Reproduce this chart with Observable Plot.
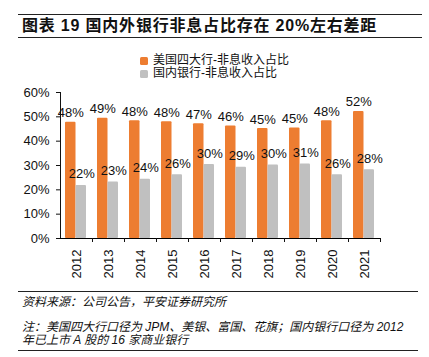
<!DOCTYPE html>
<html><head><meta charset="utf-8">
<script src="https://cdn.jsdelivr.net/npm/d3@7"></script>
<script src="https://cdn.jsdelivr.net/npm/@observablehq/plot@0.6"></script>
<style>
body{margin:0;background:#fff;width:429px;height:357px;position:relative;overflow:hidden;font-family:"Liberation Sans","Noto Sans CJK SC",sans-serif;color:#111;}
#title{position:absolute;left:18px;top:14px;width:400px;height:22px;border-top:1.5px solid #222;border-bottom:1.5px solid #222;font-size:16px;font-weight:bold;line-height:22px;padding-left:4px;box-sizing:content-box;white-space:nowrap;letter-spacing:0.8px;}
#legend{position:absolute;left:140px;top:54px;font-size:12px;line-height:13px;}
#legend .row{display:flex;align-items:center;}
#legend .sw{width:8px;height:8px;margin-right:5px;border-radius:1.5px;}
#chart{position:absolute;left:0;top:80px;}
#foot{position:absolute;left:18px;top:291px;width:400px;border-top:1.5px solid #222;border-bottom:1.5px solid #222;font-size:12px;font-style:italic;padding:4px 0 3px 4px;box-sizing:border-box;}
#foot p{margin:0;line-height:13px;}
#foot p.src{margin-bottom:12px;}
</style></head>
<body>
<div id="title">图表 19 国内外银行非息占比存在 20%左右差距</div>
<div id="legend"></div>
<div id="chart"></div>
<div id="foot"><p class="src">资料来源：公司公告，平安证券研究所</p><p>注：美国四大行口径为 JPM、美银、富国、花旗；国内银行口径为 2012<br>年已上市 A 股的 16 家商业银行</p></div>
<script>
const years = ["2012","2013","2014","2015","2016","2017","2018","2019","2020","2021"];
const usShare = [47.8, 49.4, 48.4, 48.0, 47.2, 46.2, 45.2, 45.4, 48.4, 52.2];
const cnShare = [21.8, 23.2, 24.3, 26.2, 30.4, 29.3, 30.2, 30.6, 26.2, 28.3];
const seriesNames = ["美国四大行-非息收入占比", "国内银行-非息收入占比"];
const seriesColors = ["#ED7D31", "#C0C0C0"];
const yTicks = [0, 10, 20, 30, 40, 50, 60];

const data = years.map((y, i) => ({year: y, us: usShare[i], cn: cnShare[i]}));

const legend = document.getElementById("legend");
seriesNames.forEach((n, i) => {
  const r = document.createElement("div");
  r.className = "row";
  r.innerHTML = `<span class="sw" style="background:${seriesColors[i]}"></span><span>${n}</span>`;
  legend.appendChild(r);
});

const fmt = v => Math.round(v) + "%";
const plot = Plot.plot({
  width: 429,
  height: 210,
  marginLeft: 60,
  marginRight: 49,
  marginTop: 12,
  marginBottom: 52,
  style: {fontFamily: "Liberation Sans, Arial, sans-serif", fontSize: "13px", color: "#111", background: "#fff"},
  x: {domain: years, padding: 0, label: null},
  y: {domain: [0, 60], ticks: yTicks, tickFormat: d => d + "%", tickSize: 4, tickPadding: 7, line: true, label: null},
  marks: [
    Plot.barY(data, {x: "year", y: "us", fill: seriesColors[0], insetLeft: 5, insetRight: 16.5, rx: 1}),
    Plot.barY(data, {x: "year", y: "cn", fill: seriesColors[1], insetLeft: 15.5, insetRight: 6, rx: 1}),
    Plot.text(data, {x: "year", y: "us", text: d => fmt(d.us), dx: -5.75, dy: -5, lineAnchor: "bottom", fill: "#111"}),
    Plot.text(data, {x: "year", y: "cn", text: d => fmt(d.cn), dx: 5.25, dy: -7, lineAnchor: "bottom", fill: "#111"}),
    Plot.ruleY([0], {stroke: "#000"}),
    Plot.axisX({tickSize: 0, tickPadding: 11, tickRotate: -90, label: null}),
    Plot.axisX({tickSize: 4, tickFormat: () => "", dx: 16, label: null})
  ]
});
document.getElementById("chart").appendChild(plot);
</script>
</body></html>
